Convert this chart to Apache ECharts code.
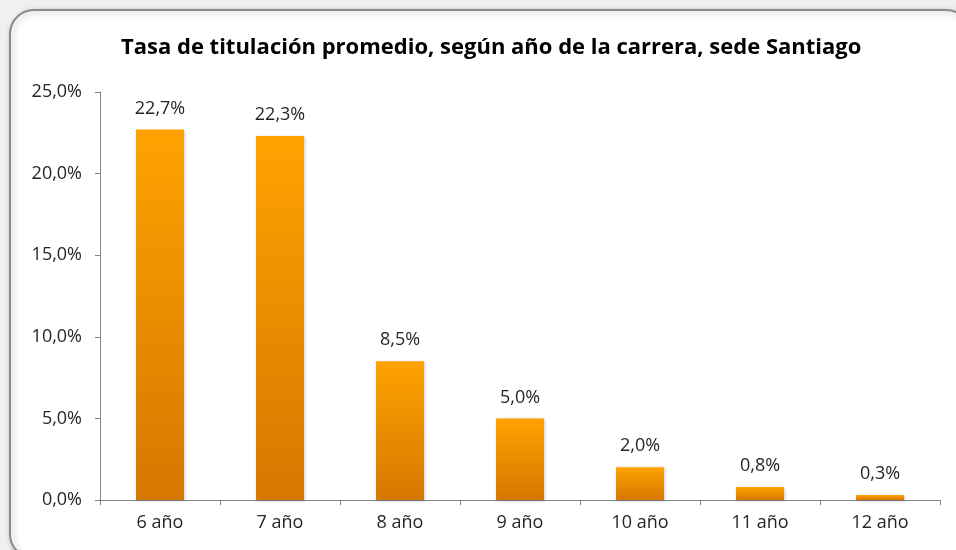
<!DOCTYPE html>
<html><head><meta charset="utf-8">
<script src="https://cdn.jsdelivr.net/npm/echarts@6/dist/echarts.min.js"></script>
<style>html,body{margin:0;padding:0;background:#f0f0f0;}#c{width:956px;height:550px;}</style>
</head><body><div id="c"></div>
<script>
var categories = ['6 año','7 año','8 año','9 año','10 año','11 año','12 año'];
var values = [22.7, 22.3, 8.5, 5.0, 2.0, 0.8, 0.3];
var yTicks = [0, 5, 10, 15, 20, 25];
var titleText = 'Tasa de titulación promedio, según año de la carrera, sede Santiago';
function pct(v){ return v.toFixed(1).replace('.', ',') + '%'; }
var chart = echarts.init(document.getElementById('c'));
var font = 'Open Sans';
chart.setOption({
  backgroundColor: 'transparent',
  animation: false,
  graphic: [{
    type: 'rect', z: -10, silent: true,
    shape: {x: 10, y: 10, width: 960, height: 548, r: 24},
    style: {fill: '#ffffff', stroke: '#8a8a8a', lineWidth: 2,
      shadowBlur: 6, shadowColor: 'rgba(0,0,0,0.25)', shadowOffsetX: 2, shadowOffsetY: 2}
  }],
  title: {
    text: titleText, left: 116, top: 32,
    textStyle: {fontFamily: font, fontWeight: 'bold', fontSize: 22, color: '#000'}
  },
  grid: {left: 100, right: 16, top: 92, bottom: 50, containLabel: false},
  xAxis: {
    type: 'category', data: categories, boundaryGap: true,
    axisLine: {lineStyle: {color: '#868686', width: 1}},
    axisTick: {show: true, length: 5, alignWithLabel: false, lineStyle: {color: '#868686'}},
    axisLabel: {fontFamily: font, fontSize: 18, color: '#262626', margin: 14}
  },
  yAxis: {
    type: 'value', min: 0, max: 25, interval: 5,
    splitLine: {show: false},
    axisLine: {show: true, lineStyle: {color: '#868686', width: 1}},
    axisTick: {show: true, length: 5, lineStyle: {color: '#868686'}},
    axisLabel: {fontFamily: font, fontSize: 18, color: '#262626', margin: 18,
      formatter: function(v){ return pct(v); }}
  },
  series: [{
    type: 'bar', data: values, barWidth: '40%',
    itemStyle: {
      color: new echarts.graphic.LinearGradient(0, 0, 0, 1, [
        {offset: 0, color: '#ffa200'}, {offset: 1, color: '#d67700'}
      ]),
      shadowBlur: 3, shadowColor: 'rgba(0,0,0,0.2)', shadowOffsetX: 1, shadowOffsetY: 1
    },
    label: {show: true, position: 'top', distance: 12, fontFamily: font, fontSize: 18, color: '#262626',
      formatter: function(p){ return pct(p.value); }}
  }]
});
</script></body></html>
